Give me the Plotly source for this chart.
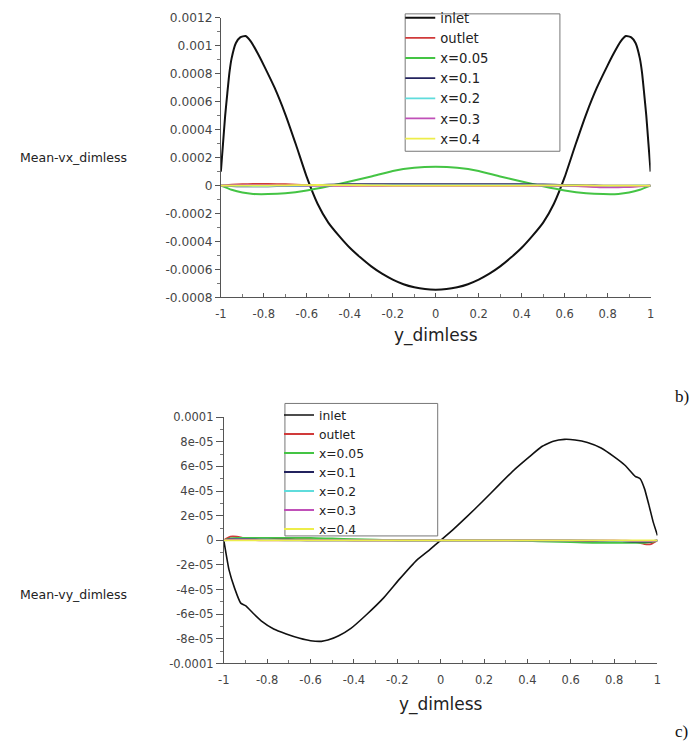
import plotly.graph_objects as go

W, H = 695, 749

# ---------------- top chart (Mean-vx_dimless) ----------------
vx_inlet_x = [-1, -0.99, -0.98, -0.97, -0.96, -0.95, -0.93, -0.91, -0.885, -0.86, -0.83, -0.8,
              -0.75, -0.7, -0.65, -0.6, -0.55, -0.5, -0.45, -0.4, -0.35, -0.3, -0.25, -0.2,
              -0.15, -0.1, -0.05, 0,
              0.05, 0.1, 0.15, 0.2, 0.25, 0.3, 0.35, 0.4, 0.45, 0.5, 0.55, 0.6, 0.65, 0.7,
              0.75, 0.8, 0.83, 0.86, 0.885, 0.91, 0.93, 0.95, 0.96, 0.97, 0.98, 0.99, 1]
vx_inlet = [0.0001, 0.0003, 0.0005, 0.00066, 0.00081, 0.00091, 0.00102, 0.00106, 0.00107,
            0.00103, 0.00095, 0.00086, 0.0007, 0.00051, 0.00029, 0.00006, -0.00013, -0.000265,
            -0.00036, -0.000445, -0.000515, -0.000578, -0.00063, -0.000672, -0.000705,
            -0.000727, -0.00074, -0.000744,
            -0.00074, -0.000727, -0.000705, -0.000672, -0.00063, -0.000578, -0.000515,
            -0.000445, -0.00036, -0.000265, -0.00013, 0.00006, 0.00029, 0.00051, 0.0007,
            0.00086, 0.00095, 0.00103, 0.00107, 0.00106, 0.00102, 0.00091, 0.00081, 0.00066,
            0.0005, 0.0003, 0.0001]

vx_small_x = [-1, -0.95, -0.9, -0.85, -0.78, -0.7, -0.6, -0.5, -0.4, -0.3, -0.2, -0.1, 0,
              0.1, 0.2, 0.3, 0.4, 0.5, 0.6, 0.7, 0.78, 0.85, 0.9, 0.95, 1]
vx_outlet = [0, 0.000006, 0.00001, 0.000012, 0.000012, 0.00001, 0.000004, 0, 0, 0, 0, 0, 0,
             0, 0, 0, 0, 0, -0.000002, -0.000006, -0.00001, -0.00001, -0.000008, -0.000004, 0]
vx_x005 = [0, -0.00003, -0.00005, -0.00006, -0.000061, -0.000055, -0.000035, -0.000005,
           0.00003, 0.000065, 0.000105, 0.000128, 0.000135, 0.000128, 0.000105, 0.000065,
           0.00003, -0.000005, -0.000035, -0.000055, -0.000061, -0.00006, -0.00005, -0.00003, 0]
vx_x01 = [0, -0.000004, -0.000006, -0.000006, -0.000005, -0.000003, 0, 0.000006, 0.00001,
          0.00001, 0.00001, 0.00001, 0.00001, 0.00001, 0.00001, 0.00001, 0.00001, 0.000008,
          0.000004, 0.000002, 0, 0, 0, 0, 0]
vx_x02 = [0, 0, -0.000002, -0.000003, -0.000003, -0.000002, 0, 0.000002, 0.000004, 0.000004,
          0.000004, 0.000004, 0.000004, 0.000004, 0.000004, 0.000004, 0.000004, 0.000002, 0,
          -0.000002, -0.000003, -0.000003, -0.000002, 0, 0]
vx_x03 = [0, 0.000002, 0.000004, 0.000004, 0.000003, 0.000002, 0, 0, 0, 0, 0, 0, 0, 0, 0, 0,
          0, 0, 0, -0.000006, -0.000012, -0.000012, -0.00001, -0.000005, 0]
vx_x04 = [0, 0, 0, 0, 0, 0.000002, 0.000004, 0.000004, 0.000003, 0.000002, 0, 0, 0, 0, 0, 0,
          0, 0.000002, 0.000002, 0.000001, 0, 0, 0, 0, 0]

# ---------------- bottom chart (Mean-vy_dimless) ----------------
vy_inlet_x = [-1, -0.976, -0.95, -0.922, -0.9, -0.86, -0.823, -0.77, -0.712, -0.65, -0.6,
              -0.55, -0.52, -0.47, -0.414, -0.34, -0.262, -0.19, -0.11, -0.05, 0, 0.056, 0.12,
              0.193, 0.269, 0.344, 0.41, 0.465, 0.52, 0.571, 0.62, 0.677, 0.74, 0.799, 0.85,
              0.897, 0.92, 0.94, 0.96, 0.98, 1.0]
vy_inlet = [0, -2.4e-5, -3.9e-5, -5.1e-5, -5.3e-5, -6.0e-5, -6.6e-5, -7.2e-5, -7.6e-5,
            -7.95e-5, -8.15e-5, -8.2e-5, -8.1e-5, -7.75e-5, -7.15e-5, -6.0e-5, -4.65e-5,
            -3.15e-5, -1.6e-5, -7.5e-6, 0, 8.5e-6, 1.9e-5, 3.15e-5, 4.5e-5, 5.8e-5, 6.8e-5,
            7.6e-5, 8.05e-5, 8.2e-5, 8.15e-5, 7.95e-5, 7.5e-5, 6.8e-5, 6.1e-5, 5.2e-5, 5.0e-5,
            4.2e-5, 2.9e-5, 1.5e-5, 4e-6]

vy_small_x = [-1, -0.97, -0.94, -0.9, -0.8, -0.7, -0.6, -0.5, -0.4, -0.3, -0.2, -0.1, 0,
              0.1, 0.2, 0.3, 0.4, 0.5, 0.6, 0.7, 0.8, 0.9, 0.94, 0.97, 1]
vy_outlet = [0, 3e-6, 3e-6, 1.5e-6, 1e-6, 1e-6, 1e-6, 5e-7, 0, 0, 0, 0, 0, 0, 0, 0, 0, 0,
             -5e-7, -1e-6, -1e-6, -1.5e-6, -3e-6, -3e-6, 0]
vy_x005 = [0, 1.5e-6, 2e-6, 2e-6, 2e-6, 2e-6, 2e-6, 1.5e-6, 1e-6, 5e-7, 0, 0, 0, 0, 0, 0,
           -5e-7, -1e-6, -1.5e-6, -2e-6, -2e-6, -2e-6, -2e-6, -1.5e-6, 0]
vy_x01 = [0, 1e-6, 1e-6, 1e-6, 5e-7, 5e-7, 0, 0, 0, 0, 0, 0, 0, 0, 0, 0, 0, 0, 0, -5e-7,
          -5e-7, -1e-6, -1e-6, -1e-6, 0]
vy_x02 = [0, 5e-7, 5e-7, 5e-7, 5e-7, 0, 0, 0, 0, 0, 0, 0, 0, 0, 0, 0, 0, 0, 0, 0, -5e-7,
          -5e-7, -5e-7, -5e-7, 0]
vy_x03 = [0, 5e-7, 5e-7, 5e-7, 0, 0, 0, 0, 0, 0, 0, 0, 0, 0, 0, 0, 0, 0, 0, 0, 0, -5e-7,
          -5e-7, -5e-7, 0]
vy_x04 = [0, 0, 0, 0, 0, 0, 0, 0, 0, 0, 0, 0, 0, 0, 0, 0, 0, 0, 0, 0, 0, 0, 0, 0, 0]

series_names = ["inlet", "outlet", "x=0.05", "x=0.1", "x=0.2", "x=0.3", "x=0.4"]
series_colors = ["#111111", "#d03a3a", "#44c444", "#23235e", "#5fdcdc", "#c050b8", "#eded4a"]

x_tickvals = [-1, -0.8, -0.6, -0.4, -0.2, 0, 0.2, 0.4, 0.6, 0.8, 1]
x_ticktext = ["-1", "-0.8", "-0.6", "-0.4", "-0.2", "0", "0.2", "0.4", "0.6", "0.8", "1"]
vx_tickvals = [0.0012, 0.001, 0.0008, 0.0006, 0.0004, 0.0002, 0, -0.0002, -0.0004, -0.0006, -0.0008]
vx_ticktext = ["0.0012", "0.001", "0.0008", "0.0006", "0.0004", "0.0002", "0", "-0.0002",
               "-0.0004", "-0.0006", "-0.0008"]
vy_tickvals = [0.0001, 8e-5, 6e-5, 4e-5, 2e-5, 0, -2e-5, -4e-5, -6e-5, -8e-5, -0.0001]
vy_ticktext = ["0.0001", "8e-05", "6e-05", "4e-05", "2e-05", "0", "-2e-05", "-4e-05", "-6e-05",
               "-8e-05", "-0.0001"]

FONT = "DejaVu Sans"

fig = go.Figure()

top_sets = [(vx_inlet_x, vx_inlet), (vx_small_x, vx_outlet), (vx_small_x, vx_x005),
            (vx_small_x, vx_x01), (vx_small_x, vx_x02), (vx_small_x, vx_x03), (vx_small_x, vx_x04)]
bot_sets = [(vy_inlet_x, vy_inlet), (vy_small_x, vy_outlet), (vy_small_x, vy_x005),
            (vy_small_x, vy_x01), (vy_small_x, vy_x02), (vy_small_x, vy_x03), (vy_small_x, vy_x04)]

for i, (xs, ys) in enumerate(top_sets):
    fig.add_trace(go.Scatter(
        x=xs, y=ys, mode="lines", name=series_names[i], legend="legend",
        line=dict(color=series_colors[i], width=2 if i in (0, 2) else 1.8,
                  shape="spline", smoothing=0.5),
        xaxis="x", yaxis="y"))

for i, (xs, ys) in enumerate(bot_sets):
    fig.add_trace(go.Scatter(
        x=xs, y=ys, mode="lines", name=series_names[i], legend="legend2",
        line=dict(color=series_colors[i], width=1.6 if i == 0 else 1.8,
                  shape="spline", smoothing=0.4 if i == 0 else 0.8),
        xaxis="x2", yaxis="y2"))


def xax(domain, anchor, standoff):
    return dict(domain=domain, anchor=anchor, range=[-1, 1], tickvals=x_tickvals,
                ticktext=x_ticktext, ticks="inside", ticklen=4, tickcolor="#555",
                ticklabelstandoff=6,
                minor=dict(ticks="inside", ticklen=3, dtick=0.1, tickcolor="#777"),
                showline=True, linecolor="#555", linewidth=1, showgrid=False,
                zeroline=False, tickfont=dict(family=FONT, size=11.5, color="#444"),
                title=dict(text="y_dimless", font=dict(family=FONT, size=17, color="#222"),
                           standoff=standoff))


def yax(domain, anchor, rng, tv, tt, tl, fs):
    return dict(domain=domain, anchor=anchor, range=rng, tickvals=tv, ticktext=tt,
                ticks="outside", ticklen=tl, tickcolor="#555",
                minor=dict(ticks="outside", ticklen=3, dtick=(tv[0] - tv[1]) / 2,
                           tickcolor="#777"),
                showline=True, linecolor="#555", linewidth=1, showgrid=False,
                zeroline=False, tickfont=dict(family=FONT, size=fs, color="#444"))


def box(x0, x1, y0, y1):
    return dict(type="rect", xref="paper", yref="paper", x0=x0 / W, x1=x1 / W,
                y0=1 - y1 / H, y1=1 - y0 / H, line=dict(color="#777", width=1),
                fillcolor="white", layer="above")


fig.update_layout(
    width=W, height=H, margin=dict(l=0, r=0, t=0, b=0),
    paper_bgcolor="white", plot_bgcolor="white", showlegend=True,
    xaxis=xax([218 / W, 654 / W], "y", 8),
    yaxis=yax([1 - 296 / H, 1 - 11 / H], "x", [-0.0008, 0.0012], vx_tickvals, vx_ticktext, 5, 12.2),
    xaxis2=xax([221 / W, 661 / W], "y2", 11),
    yaxis2=yax([1 - 669 / H, 1 - 418 / H], "x2", [-0.0001, 0.0001], vy_tickvals, vy_ticktext, 7, 11.5),
    legend=dict(x=400 / W, y=1 + 4.5 / H, xanchor="left", yanchor="top",
                bgcolor="rgba(0,0,0,0)", borderwidth=0, itemwidth=30,
                tracegroupgap=0, font=dict(family=FONT, size=13.2, color="#222")),
    legend2=dict(x=277 / W, y=1 - 401 / H, xanchor="left", yanchor="top",
                 bgcolor="rgba(0,0,0,0)", borderwidth=0, itemwidth=30,
                 tracegroupgap=0, font=dict(family=FONT, size=12.3, color="#222")),
    shapes=[box(405, 562, 7, 147), box(283, 438, 404, 539)],
    annotations=[
        dict(text="Mean-vx_dimless", x=12 / W, y=1 - 153 / H, xref="paper", yref="paper",
             xanchor="left", yanchor="middle", showarrow=False,
             font=dict(family=FONT, size=12.5, color="#222")),
        dict(text="Mean-vy_dimless", x=12 / W, y=1 - 599 / H, xref="paper", yref="paper",
             xanchor="left", yanchor="middle", showarrow=False,
             font=dict(family=FONT, size=12.5, color="#222")),
        dict(text="b)", x=677 / W, y=1 - 397 / H, xref="paper", yref="paper",
             xanchor="left", yanchor="middle", showarrow=False,
             font=dict(family="Liberation Serif", size=17, color="#111")),
        dict(text="c)", x=694 / W, y=1 - 738 / H, xref="paper", yref="paper",
             xanchor="right", yanchor="middle", showarrow=False,
             font=dict(family="Liberation Serif", size=17, color="#111")),
    ],
)

fig.write_html("out.html")
